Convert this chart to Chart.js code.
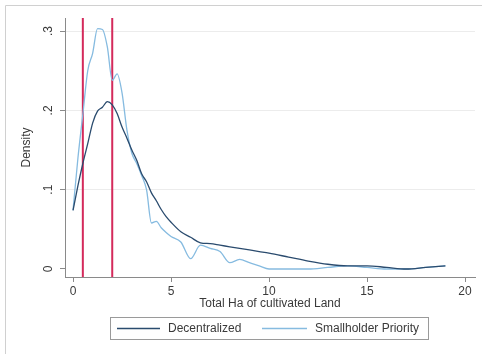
<!DOCTYPE html>
<html>
<head>
<meta charset="utf-8">
<script src="https://cdn.jsdelivr.net/npm/chart.js@4.4.1/dist/chart.umd.min.js"></script>
<style>
  html, body { margin: 0; padding: 0; background: #fff; }
  #c { display: block; }
</style>
</head>
<body>
<canvas id="c" width="482" height="354"></canvas>
<script>
// hectares (x) and kernel density estimates
const hectares = [0, 0.25, 0.5, 0.75, 1.0, 1.25, 1.5, 1.75, 2.0, 2.25, 2.5, 2.75, 3.0, 3.25, 3.5, 3.75,
  4.0, 4.25, 4.5, 4.75, 5.0, 5.5, 6.0, 6.5, 7.0, 7.5, 8.0, 8.5, 9.0, 9.5, 10, 11, 12, 13, 14, 15, 16, 17, 18, 19];
const decentralized = [0.074, 0.105, 0.133, 0.158, 0.184, 0.199, 0.204, 0.211, 0.207, 0.196, 0.179, 0.165, 0.150, 0.137, 0.120, 0.110,
  0.096, 0.086, 0.075, 0.066, 0.059, 0.047, 0.040, 0.033, 0.032, 0.030, 0.028, 0.026, 0.024, 0.022, 0.020, 0.015, 0.010, 0.006, 0.004, 0.004, 0.002, 0.000, 0.002, 0.004];
const smallholder = [0.074, 0.140, 0.195, 0.250, 0.272, 0.303, 0.302, 0.280, 0.238, 0.246, 0.222, 0.175, 0.146, 0.133, 0.118, 0.100,
  0.058, 0.060, 0.052, 0.046, 0.041, 0.034, 0.013, 0.030, 0.026, 0.022, 0.008, 0.012, 0.008, 0.004, 0.000, 0.000, 0.000, 0.002, 0.004, 0.002, 0.000, 0.000, 0.002, 0.004];
const seriesNames = ['Decentralized', 'Smallholder Priority'];
const xTicks = [0, 5, 10, 15, 20];
const yTicks = [0, 0.1, 0.2, 0.3];
const yTickLabels = ['0', '.1', '.2', '.3'];
const refLines = [0.5, 2];

const FONT = '"Liberation Sans", Arial, sans-serif';
const TEXT = '#3a3a3a';
const AXIS = '#8a8a8a';

function pts(ys) {
  return hectares.map((x, i) => ({ x: x, y: ys[i] }));
}

const stataBits = {
  id: 'stataBits',
  beforeDraw(chart) {
    const c = chart.ctx;
    c.save();
    c.strokeStyle = '#d0d0d0';
    c.lineWidth = 1;
    c.beginPath();
    c.moveTo(5.5, 354); c.lineTo(5.5, 5.5); c.lineTo(482, 5.5);
    c.stroke();
    c.restore();
  },
  beforeDatasetsDraw(chart) {
    const c = chart.ctx, a = chart.chartArea, xs = chart.scales.x;
    c.save();
    c.strokeStyle = '#d42a5b';
    c.lineWidth = 2;
    refLines.forEach(v => {
      const px = xs.getPixelForValue(v);
      c.beginPath();
      c.moveTo(px, a.top);
      c.lineTo(px, a.bottom);
      c.stroke();
    });
    c.restore();
  },
  afterDraw(chart) {
    const c = chart.ctx, ys = chart.scales.y, a = chart.chartArea;
    c.save();
    c.fillStyle = TEXT;
    c.font = '12px ' + FONT;
    c.textAlign = 'center';
    c.textBaseline = 'middle';
    // rotated y tick labels
    yTicks.forEach((v, i) => {
      const py = ys.getPixelForValue(v);
      c.save();
      c.translate(49, py);
      c.rotate(-Math.PI / 2);
      c.fillText(yTickLabels[i], 0, 0);
      c.restore();
    });
    // y title
    c.save();
    c.translate(27, (a.top + a.bottom) / 2);
    c.rotate(-Math.PI / 2);
    c.fillText('Density', 0, 0);
    c.restore();
    // x title
    c.fillText('Total Ha of cultivated Land', (a.left + a.right) / 2, 304);

    // legend
    const bx = 110, by = 317, bw = 318, bh = 22;
    c.strokeStyle = '#9a9a9a';
    c.lineWidth = 1;
    c.strokeRect(bx + 0.5, by + 0.5, bw, bh);
    const cy = by + bh / 2 + 0.5;
    const items = [
      { x0: 117, x1: 160, tx: 168 },
      { x0: 262, x1: 307, tx: 315 }
    ];
    c.textAlign = 'left';
    items.forEach((it, i) => {
      const ds = chart.data.datasets[i];
      c.strokeStyle = ds.borderColor;
      c.lineWidth = 1.3;
      c.beginPath();
      c.moveTo(it.x0, cy);
      c.lineTo(it.x1, cy);
      c.stroke();
      c.fillStyle = TEXT;
      c.fillText(ds.label, it.tx, cy);
    });
    c.restore();
  }
};

new Chart(document.getElementById('c'), {
  type: 'line',
  data: {
    datasets: [
      { label: seriesNames[0], data: pts(decentralized), borderColor: '#2a4b6e', borderWidth: 1.3, pointRadius: 0, tension: 0.3, cubicInterpolationMode: 'monotone' },
      { label: seriesNames[1], data: pts(smallholder), borderColor: '#86bbe0', borderWidth: 1.3, pointRadius: 0, tension: 0.3, cubicInterpolationMode: 'monotone' }
    ]
  },
  options: {
    responsive: false,
    animation: false,
    devicePixelRatio: 1,
    layout: { padding: { left: 0, top: 18, right: 7, bottom: 0 } },
    plugins: { legend: { display: false }, tooltip: { enabled: false } },
    scales: {
      x: {
        type: 'linear',
        min: -0.41,
        max: 20.51,
        afterBuildTicks(s) { s.ticks = xTicks.map(v => ({ value: v })); },
        afterFit(s) { s.height = 77; },
        grid: { drawOnChartArea: false, tickLength: 5, tickColor: AXIS },
        border: { color: AXIS, width: 1 },
        ticks: { color: TEXT, font: { size: 12, family: FONT }, padding: 2, maxRotation: 0 }
      },
      y: {
        min: -0.0101,
        max: 0.3165,
        afterBuildTicks(s) { s.ticks = yTicks.map(v => ({ value: v })); },
        afterFit(s) { s.width = 65; },
        grid: {
          tickLength: 5,
          tickColor: AXIS,
          color: ctx => (ctx.tick && ctx.tick.value === 0) ? 'rgba(0,0,0,0)' : '#ececec'
        },
        border: { color: AXIS, width: 1 },
        ticks: { display: false }
      }
    }
  },
  plugins: [stataBits]
});
</script>
</body>
</html>
